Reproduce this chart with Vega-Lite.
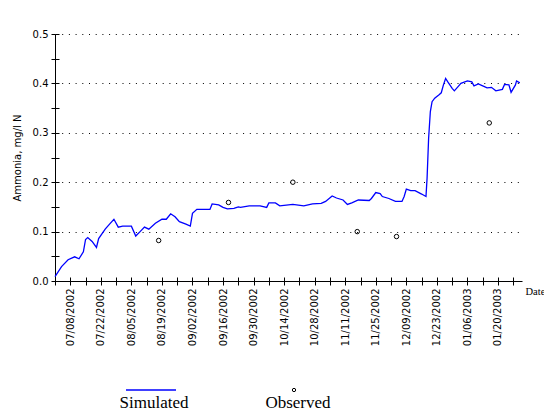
{
  "$schema": "https://vega.github.io/schema/vega-lite/v6.json",
  "width": 467,
  "height": 247,
  "autosize": {"type": "none"},
  "padding": {"left": 55, "top": 34, "right": 22, "bottom": 131},
  "background": "white",
  "config": {"view": {"stroke": null}, "font": "DejaVu Sans"},
  "datasets": {
    "sim": [
      {"date": "2002-07-01T00:00:00Z", "value": 0.009},
      {"date": "2002-07-04T00:00:00Z", "value": 0.029},
      {"date": "2002-07-07T00:00:00Z", "value": 0.043},
      {"date": "2002-07-10T00:00:00Z", "value": 0.049},
      {"date": "2002-07-12T00:00:00Z", "value": 0.045},
      {"date": "2002-07-14T00:00:00Z", "value": 0.059},
      {"date": "2002-07-15T00:00:00Z", "value": 0.084},
      {"date": "2002-07-16T00:00:00Z", "value": 0.088},
      {"date": "2002-07-18T00:00:00Z", "value": 0.080},
      {"date": "2002-07-20T00:00:00Z", "value": 0.068},
      {"date": "2002-07-21T00:00:00Z", "value": 0.086},
      {"date": "2002-07-24T00:00:00Z", "value": 0.105},
      {"date": "2002-07-26T00:00:00Z", "value": 0.115},
      {"date": "2002-07-28T00:00:00Z", "value": 0.125},
      {"date": "2002-07-30T00:00:00Z", "value": 0.109},
      {"date": "2002-08-01T00:00:00Z", "value": 0.111},
      {"date": "2002-08-05T00:00:00Z", "value": 0.111},
      {"date": "2002-08-07T00:00:00Z", "value": 0.091},
      {"date": "2002-08-09T00:00:00Z", "value": 0.100},
      {"date": "2002-08-11T00:00:00Z", "value": 0.109},
      {"date": "2002-08-13T00:00:00Z", "value": 0.105},
      {"date": "2002-08-16T00:00:00Z", "value": 0.117},
      {"date": "2002-08-19T00:00:00Z", "value": 0.125},
      {"date": "2002-08-21T00:00:00Z", "value": 0.125},
      {"date": "2002-08-23T00:00:00Z", "value": 0.136},
      {"date": "2002-08-25T00:00:00Z", "value": 0.130},
      {"date": "2002-08-27T00:00:00Z", "value": 0.120},
      {"date": "2002-08-30T00:00:00Z", "value": 0.115},
      {"date": "2002-09-01T00:00:00Z", "value": 0.111},
      {"date": "2002-09-02T00:00:00Z", "value": 0.137},
      {"date": "2002-09-04T00:00:00Z", "value": 0.145},
      {"date": "2002-09-10T00:00:00Z", "value": 0.145},
      {"date": "2002-09-11T00:00:00Z", "value": 0.156},
      {"date": "2002-09-14T00:00:00Z", "value": 0.154},
      {"date": "2002-09-16T00:00:00Z", "value": 0.149},
      {"date": "2002-09-18T00:00:00Z", "value": 0.146},
      {"date": "2002-09-21T00:00:00Z", "value": 0.147},
      {"date": "2002-09-23T00:00:00Z", "value": 0.150},
      {"date": "2002-09-24T00:00:00Z", "value": 0.149},
      {"date": "2002-09-28T00:00:00Z", "value": 0.152},
      {"date": "2002-10-03T00:00:00Z", "value": 0.152},
      {"date": "2002-10-06T00:00:00Z", "value": 0.149},
      {"date": "2002-10-07T00:00:00Z", "value": 0.158},
      {"date": "2002-10-10T00:00:00Z", "value": 0.158},
      {"date": "2002-10-12T00:00:00Z", "value": 0.152},
      {"date": "2002-10-18T00:00:00Z", "value": 0.155},
      {"date": "2002-10-23T00:00:00Z", "value": 0.152},
      {"date": "2002-10-27T00:00:00Z", "value": 0.156},
      {"date": "2002-10-31T00:00:00Z", "value": 0.157},
      {"date": "2002-11-02T00:00:00Z", "value": 0.161},
      {"date": "2002-11-05T00:00:00Z", "value": 0.172},
      {"date": "2002-11-07T00:00:00Z", "value": 0.168},
      {"date": "2002-11-10T00:00:00Z", "value": 0.164},
      {"date": "2002-11-12T00:00:00Z", "value": 0.155},
      {"date": "2002-11-14T00:00:00Z", "value": 0.158},
      {"date": "2002-11-17T00:00:00Z", "value": 0.164},
      {"date": "2002-11-22T00:00:00Z", "value": 0.163},
      {"date": "2002-11-23T00:00:00Z", "value": 0.167},
      {"date": "2002-11-25T00:00:00Z", "value": 0.179},
      {"date": "2002-11-27T00:00:00Z", "value": 0.177},
      {"date": "2002-11-28T00:00:00Z", "value": 0.171},
      {"date": "2002-12-01T00:00:00Z", "value": 0.167},
      {"date": "2002-12-04T00:00:00Z", "value": 0.161},
      {"date": "2002-12-07T00:00:00Z", "value": 0.161},
      {"date": "2002-12-08T00:00:00Z", "value": 0.171},
      {"date": "2002-12-09T00:00:00Z", "value": 0.186},
      {"date": "2002-12-11T00:00:00Z", "value": 0.183},
      {"date": "2002-12-13T00:00:00Z", "value": 0.183},
      {"date": "2002-12-16T00:00:00Z", "value": 0.176},
      {"date": "2002-12-18T00:00:00Z", "value": 0.171},
      {"date": "2002-12-18T12:00:00Z", "value": 0.208},
      {"date": "2002-12-19T05:00:00Z", "value": 0.289},
      {"date": "2002-12-20T00:00:00Z", "value": 0.343},
      {"date": "2002-12-20T19:00:00Z", "value": 0.363},
      {"date": "2002-12-22T00:00:00Z", "value": 0.370},
      {"date": "2002-12-24T00:00:00Z", "value": 0.377},
      {"date": "2002-12-25T00:00:00Z", "value": 0.381},
      {"date": "2002-12-26T00:00:00Z", "value": 0.397},
      {"date": "2002-12-27T00:00:00Z", "value": 0.410},
      {"date": "2002-12-28T00:00:00Z", "value": 0.403},
      {"date": "2002-12-30T00:00:00Z", "value": 0.390},
      {"date": "2002-12-31T00:00:00Z", "value": 0.385},
      {"date": "2003-01-02T00:00:00Z", "value": 0.395},
      {"date": "2003-01-03T00:00:00Z", "value": 0.400},
      {"date": "2003-01-06T00:00:00Z", "value": 0.405},
      {"date": "2003-01-08T00:00:00Z", "value": 0.403},
      {"date": "2003-01-09T00:00:00Z", "value": 0.395},
      {"date": "2003-01-11T00:00:00Z", "value": 0.399},
      {"date": "2003-01-13T00:00:00Z", "value": 0.395},
      {"date": "2003-01-15T00:00:00Z", "value": 0.391},
      {"date": "2003-01-17T00:00:00Z", "value": 0.392},
      {"date": "2003-01-19T00:00:00Z", "value": 0.385},
      {"date": "2003-01-22T00:00:00Z", "value": 0.388},
      {"date": "2003-01-23T00:00:00Z", "value": 0.398},
      {"date": "2003-01-25T00:00:00Z", "value": 0.397},
      {"date": "2003-01-26T00:00:00Z", "value": 0.382},
      {"date": "2003-01-28T00:00:00Z", "value": 0.397},
      {"date": "2003-01-28T12:00:00Z", "value": 0.405},
      {"date": "2003-01-30T00:00:00Z", "value": 0.401}
    ],
    "obs": [
      {"date": "2002-08-17T12:00:00Z", "value": 0.082},
      {"date": "2002-09-18T12:00:00Z", "value": 0.159},
      {"date": "2002-10-18T00:00:00Z", "value": 0.200},
      {"date": "2002-11-16T12:00:00Z", "value": 0.100},
      {"date": "2002-12-04T12:00:00Z", "value": 0.090},
      {"date": "2003-01-16T00:00:00Z", "value": 0.320}
    ]
  },
  "resolve": {"axis": {"x": "independent", "y": "independent"}},
  "layer": [
    {
      "data": {"name": "sim"},
      "mark": {"type": "line", "strokeWidth": 1.3, "interpolate": "linear"},
      "encoding": {
        "x": {
          "field": "date",
          "type": "temporal",
          "scale": {"type": "utc", "domain": [1025481600000, 1043971200000]},
          "axis": {
            "orient": "bottom",
            "values": [1025481600000, 1026086400000, 1026691200000, 1027296000000, 1027900800000, 1028505600000, 1029110400000, 1029715200000, 1030320000000, 1030924800000, 1031529600000, 1032134400000, 1032739200000, 1033344000000, 1033948800000, 1034553600000, 1035158400000, 1035763200000, 1036368000000, 1036972800000, 1037577600000, 1038182400000, 1038787200000, 1039392000000, 1039996800000, 1040601600000, 1041206400000, 1041811200000, 1042416000000, 1043020800000, 1043625600000],
            "labelExpr": "round((datum.value - 1026086400000) / 86400000) % 14 == 0 ? utcFormat(datum.value, '%m/%d/%Y') : ''",
            "labelAngle": -90,
            "labelFont": "DejaVu Sans",
            "labelFontSize": 10,
            "labelColor": "black",
            "labelPadding": 3,
            "labelOverlap": false,
            "labelFlush": false,
            "tickSize": 4,
            "tickColor": "black",
            "domainColor": "black",
            "grid": false,
            "title": "Date",
            "titleFont": "Liberation Serif",
            "titleFontSize": 10.5,
            "titleFontWeight": "normal",
            "titleColor": "black",
            "titleAngle": 0,
            "titleAlign": "left",
            "titleBaseline": "middle",
            "titleX": 470,
            "titleY": 10
          }
        },
        "y": {
          "field": "value",
          "type": "quantitative",
          "scale": {"domain": [0, 0.5], "nice": false, "zero": true},
          "axis": {
            "orient": "left",
            "values": [0, 0.05, 0.1, 0.15, 0.2, 0.25, 0.3, 0.35, 0.4, 0.45, 0.5],
            "labelExpr": "round(datum.value * 100) % 10 == 0 ? format(datum.value, '.1f') : ''",
            "labelFont": "DejaVu Sans",
            "labelFontSize": 10,
            "labelColor": "black",
            "labelPadding": 3,
            "labelOverlap": false,
            "labelFlush": false,
            "tickSize": 4,
            "tickColor": "black",
            "domainColor": "black",
            "grid": true,
            "gridColor": "black",
            "gridDash": [1, 5.7],
            "gridOpacity": {"condition": {"test": "round(datum.value * 100) % 10 == 0 && datum.value > 0", "value": 1}, "value": 0},
            "title": "Ammonia, mg/l N",
            "titleFont": "DejaVu Sans",
            "titleFontSize": 10,
            "titleFontWeight": "normal",
            "titleColor": "black",
            "titlePadding": 10
          }
        },
        "color": {
          "datum": "Simulated",
          "scale": {"range": ["#0000ff"]},
          "legend": {
            "orient": "none",
            "legendX": 65,
            "legendY": 330,
            "padding": 0,
            "title": "Simulated",
            "titleOrient": "bottom",
            "titleAnchor": "middle",
            "titleFont": "Liberation Serif",
            "titleFontSize": 17,
            "titleFontWeight": "normal",
            "titleColor": "black",
            "titlePadding": 0,
            "labelExpr": "''",
            "labelOffset": 5,
            "symbolType": "stroke",
            "symbolSize": 2500,
            "symbolStrokeWidth": 1.3
          }
        }
      }
    },
    {
      "data": {"name": "obs"},
      "mark": {"type": "point", "shape": "circle", "filled": false, "stroke": "black", "strokeWidth": 1, "size": 20, "opacity": 1},
      "encoding": {
        "x": {
          "field": "date",
          "type": "temporal",
          "axis": {
            "orient": "bottom",
            "values": [1025481600000, 1026086400000, 1026691200000, 1027296000000, 1027900800000, 1028505600000, 1029110400000, 1029715200000, 1030320000000, 1030924800000, 1031529600000, 1032134400000, 1032739200000, 1033344000000, 1033948800000, 1034553600000, 1035158400000, 1035763200000, 1036368000000, 1036972800000, 1037577600000, 1038182400000, 1038787200000, 1039392000000, 1039996800000, 1040601600000, 1041206400000, 1041811200000, 1042416000000, 1043020800000, 1043625600000],
            "labels": false,
            "domain": false,
            "grid": false,
            "tickSize": -4,
            "tickColor": "black",
            "title": null
          }
        },
        "y": {
          "field": "value",
          "type": "quantitative",
          "axis": {
            "orient": "left",
            "values": [0, 0.05, 0.1, 0.15, 0.2, 0.25, 0.3, 0.35, 0.4, 0.45, 0.5],
            "labels": false,
            "domain": false,
            "grid": false,
            "tickSize": -4,
            "tickColor": "black",
            "title": null
          }
        },
        "shape": {
          "datum": "Observed",
          "scale": {"range": ["circle"]},
          "legend": {
            "orient": "none",
            "legendX": 210,
            "legendY": 351,
            "padding": 0,
            "title": "Observed",
            "titleOrient": "bottom",
            "titleAnchor": "middle",
            "titleFont": "Liberation Serif",
            "titleFontSize": 17,
            "titleFontWeight": "normal",
            "titleColor": "black",
            "titlePadding": 0,
            "labelExpr": "''",
            "labelOffset": 7,
            "symbolSize": 11,
            "symbolStrokeColor": "black",
            "symbolFillColor": "transparent",
            "symbolStrokeWidth": 1
          }
        }
      }
    }
  ]
}
